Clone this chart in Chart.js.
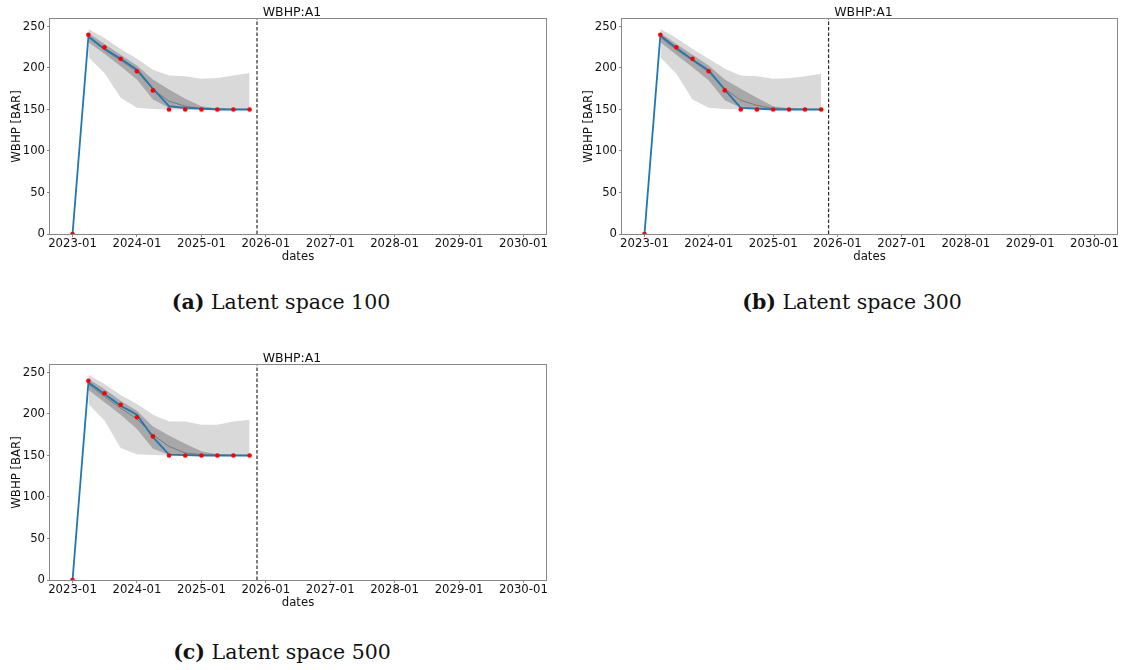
<!DOCTYPE html>
<html>
<head>
<meta charset="utf-8">
<title>WBHP:A1 — latent space comparison</title>
<script src="https://cdn.jsdelivr.net/npm/chart.js@4.4.1/dist/chart.umd.min.js"></script>
<style>
  html, body { margin: 0; padding: 0; background: #ffffff; }
  body { position: relative; width: 1121px; height: 670px; overflow: hidden; }
  canvas { position: absolute; }
  .cap {
    position: absolute;
    font-family: "DejaVu Serif", serif;
    font-size: 20.5px;
    line-height: 22px;
    color: #111;
    white-space: nowrap;
    transform: translateX(-50%);
  }
  .cap b { font-weight: bold; }
</style>
</head>
<body>
<canvas id="panelA" width="560" height="270" style="left:0px;top:0px"></canvas>
<canvas id="panelB" width="549" height="270" style="left:572px;top:0px"></canvas>
<canvas id="panelC" width="560" height="270" style="left:0px;top:346px"></canvas>

<div class="cap" style="left:281px;top:291px"><b>(a)</b> Latent space 100</div>
<div class="cap" style="left:852px;top:291px"><b>(b)</b> Latent space 300</div>
<div class="cap" style="left:282px;top:641px"><b>(c)</b> Latent space 500</div>

<script>
// Report dates (quarterly) and the observed bottom-hole pressure
const dates = ['2023-01-01', '2023-04-01', '2023-07-01', '2023-10-01',
               '2024-01-01', '2024-04-01', '2024-07-01', '2024-10-01',
               '2025-01-01', '2025-04-01', '2025-07-01', '2025-10-01'];
const observedWbhp = [0, 240, 225, 211, 196, 173, 150, 150, 150, 150, 150, 150];

// Axis ticks and the end of the history period
const xTickLabels = ['2023-01', '2024-01', '2025-01', '2026-01', '2027-01', '2028-01', '2029-01', '2030-01'];
const yTickValues = [0, 50, 100, 150, 200, 250];
const AXIS_START = '2023-01-01';
const AXIS_END = '2030-01-01';
const HIST_END = '2025-11-12';
const Y_MAX = 259;

// Latent space 100
const simA        = [0, 238, 223, 211, 198, 175, 154, 152, 151, 150, 150, 150];
const meanA       = [null, 237, 222, 209, 196, 174, 160, 154, 151, 150.5, 150, 150];
const outerLowA   = [null, 213, 194, 164, 152, 150.5, 150, 150, 150, 150, 150, 150];
const outerHighA  = [null, 247, 236, 223, 211, 198, 191, 190, 187, 188, 191, 194];
const innerLowA   = [null, 231, 217, 202, 186, 162, 152, 150.3, 150, 150, 150, 150];
const innerHighA  = [null, 242, 229, 216, 203, 186, 174, 163, 154, 151.5, 151, 151];

// Latent space 300
const simB        = [0, 239, 224, 210, 197, 174, 152, 151, 150, 150, 150, 150];
const meanB       = [null, 237, 222, 209, 195, 175, 161, 155, 151, 150.5, 150, 150];
const outerLowB   = [null, 213, 193, 162, 152, 150.5, 150, 150, 150, 150, 150, 150];
const outerHighB  = [null, 247, 236, 223, 211, 199, 191, 190, 187, 187.5, 190, 193];
const innerLowB   = [null, 231, 216, 201, 185, 161, 152, 150.3, 150, 150, 150, 150];
const innerHighB  = [null, 242, 229, 216, 203, 186, 175, 164, 154, 151.5, 151, 151];

// Latent space 500
const simC        = [0, 238, 224, 210, 199, 172, 151, 150.5, 150, 150, 150, 150];
const meanC       = [null, 236, 221, 207, 194, 175, 161, 153, 151, 150.5, 150, 150];
const outerLowC   = [null, 212, 192, 159, 151.5, 150.5, 150, 150, 150, 150, 150, 150];
const outerHighC  = [null, 247, 236, 223, 212, 199, 191, 191, 187, 187, 191, 193];
const innerLowC   = [null, 229, 214, 199, 182, 158, 151, 150.2, 150, 150, 150, 150];
const innerHighC  = [null, 242, 230, 216, 204, 185, 174, 164, 155, 151.5, 151, 151];

const DAY_MS = 86400000;
function toDay(s) {
  const p = s.split('-').map(Number);
  return Date.UTC(p[0], p[1] - 1, p[2] || 1) / DAY_MS;
}

const TEXT = '#111111';
const SPINE = '#888888';
const FONT = { family: 'DejaVu Sans', size: 11.7 };

// Box around the plotting area
const framePlugin = {
  id: 'frame',
  afterDraw(chart) {
    const a = chart.chartArea, ctx = chart.ctx;
    ctx.save();
    ctx.strokeStyle = SPINE;
    ctx.lineWidth = 1;
    ctx.strokeRect(a.left - 0.5, a.top - 0.5, a.right - a.left + 1, a.bottom - a.top + 1);
    ctx.restore();
  }
};

// Axes title drawn just above the plotting area
const panelTitlePlugin = {
  id: 'panelTitle',
  afterDraw(chart, args, opts) {
    const a = chart.chartArea, ctx = chart.ctx;
    ctx.save();
    ctx.font = `${opts.size}px ${opts.family}`;
    ctx.fillStyle = opts.color;
    ctx.textAlign = 'center';
    ctx.textBaseline = 'alphabetic';
    ctx.fillText(opts.text, (a.left + a.right) / 2 + opts.shiftX, a.top - opts.gap);
    ctx.restore();
  }
};

function buildPanel(canvasId, s, padRight) {
  const pts = vals => dates.map((d, i) => ({ x: toDay(d), y: vals[i] }));
  const x0 = toDay(AXIS_START), x1 = toDay(AXIS_END);
  const margin = 0.05 * (x1 - x0);
  const clear = 'rgba(0,0,0,0)';

  return new Chart(document.getElementById(canvasId), {
    type: 'line',
    data: {
      datasets: [
        { data: pts(s.outerHigh), fill: '+1', backgroundColor: '#d9d9d9', borderColor: clear, borderWidth: 0, pointRadius: 0, order: 8 },
        { data: pts(s.outerLow), fill: false, borderColor: clear, borderWidth: 0, pointRadius: 0, order: 7 },
        { data: pts(s.innerHigh), fill: '+1', backgroundColor: '#a8a8a8', borderColor: clear, borderWidth: 0, pointRadius: 0, order: 6 },
        { data: pts(s.innerLow), fill: false, borderColor: clear, borderWidth: 0, pointRadius: 0, order: 5 },
        { data: pts(s.mean), fill: false, borderColor: '#7a7a7a', borderWidth: 1, pointRadius: 0, order: 4 },
        { data: [{ x: toDay(HIST_END), y: 0 }, { x: toDay(HIST_END), y: Y_MAX }], fill: false,
          borderColor: '#2a2a2a', borderWidth: 1.2, borderDash: [3.5, 2], pointRadius: 0, order: 3 },
        { data: pts(s.sim), fill: false, borderColor: '#1f77b4', borderWidth: 1.8, pointRadius: 0, order: 2 },
        { data: pts(observedWbhp), showLine: false, pointRadius: 2.3, pointBackgroundColor: '#ff0000',
          pointBorderWidth: 0, pointBorderColor: '#ff0000', order: 1 }
      ]
    },
    plugins: [framePlugin, panelTitlePlugin],
    options: {
      responsive: false,
      animation: false,
      devicePixelRatio: 1,
      layout: { padding: { top: 19, right: padRight, bottom: 0, left: 0 } },
      elements: { line: { tension: 0 } },
      plugins: {
        legend: { display: false },
        tooltip: { enabled: false },
        title: { display: false },
        panelTitle: { text: 'WBHP:A1', family: 'DejaVu Sans', size: 12.5, color: TEXT, shiftX: -6, gap: 3 }
      },
      scales: {
        x: {
          type: 'linear',
          min: x0 - margin,
          max: x1 + margin,
          afterFit(sc) { sc.height = 36; sc.paddingLeft = 0; sc.paddingRight = 0; },
          afterBuildTicks(sc) { sc.ticks = xTickLabels.map(l => ({ value: toDay(l) })); },
          ticks: { autoSkip: false, maxRotation: 0, padding: 0, color: TEXT, font: FONT,
                   callback: (v, i) => xTickLabels[i] },
          grid: { drawOnChartArea: false, drawTicks: true, tickLength: 3, color: SPINE, lineWidth: 1 },
          border: { display: false },
          title: { display: true, text: 'dates', color: TEXT, font: FONT, padding: { top: 0, bottom: 6 } }
        },
        y: {
          min: 0,
          max: Y_MAX,
          afterFit(sc) { sc.width = 50; },
          afterBuildTicks(sc) { sc.ticks = yTickValues.map(v => ({ value: v })); },
          ticks: { padding: 2, color: TEXT, font: FONT },
          grid: { drawOnChartArea: false, drawTicks: true, tickLength: 3, color: SPINE, lineWidth: 1 },
          border: { display: false },
          title: { display: true, text: 'WBHP [BAR]', color: TEXT, font: FONT, padding: { top: 9.6, bottom: 0 } }
        }
      }
    }
  });
}

buildPanel('panelA', { sim: simA, mean: meanA, outerLow: outerLowA, outerHigh: outerHighA, innerLow: innerLowA, innerHigh: innerHighA }, 14);
buildPanel('panelB', { sim: simB, mean: meanB, outerLow: outerLowB, outerHigh: outerHighB, innerLow: innerLowB, innerHigh: innerHighB }, 3);
buildPanel('panelC', { sim: simC, mean: meanC, outerLow: outerLowC, outerHigh: outerHighC, innerLow: innerLowC, innerHigh: innerHighC }, 14);
</script>
</body>
</html>
